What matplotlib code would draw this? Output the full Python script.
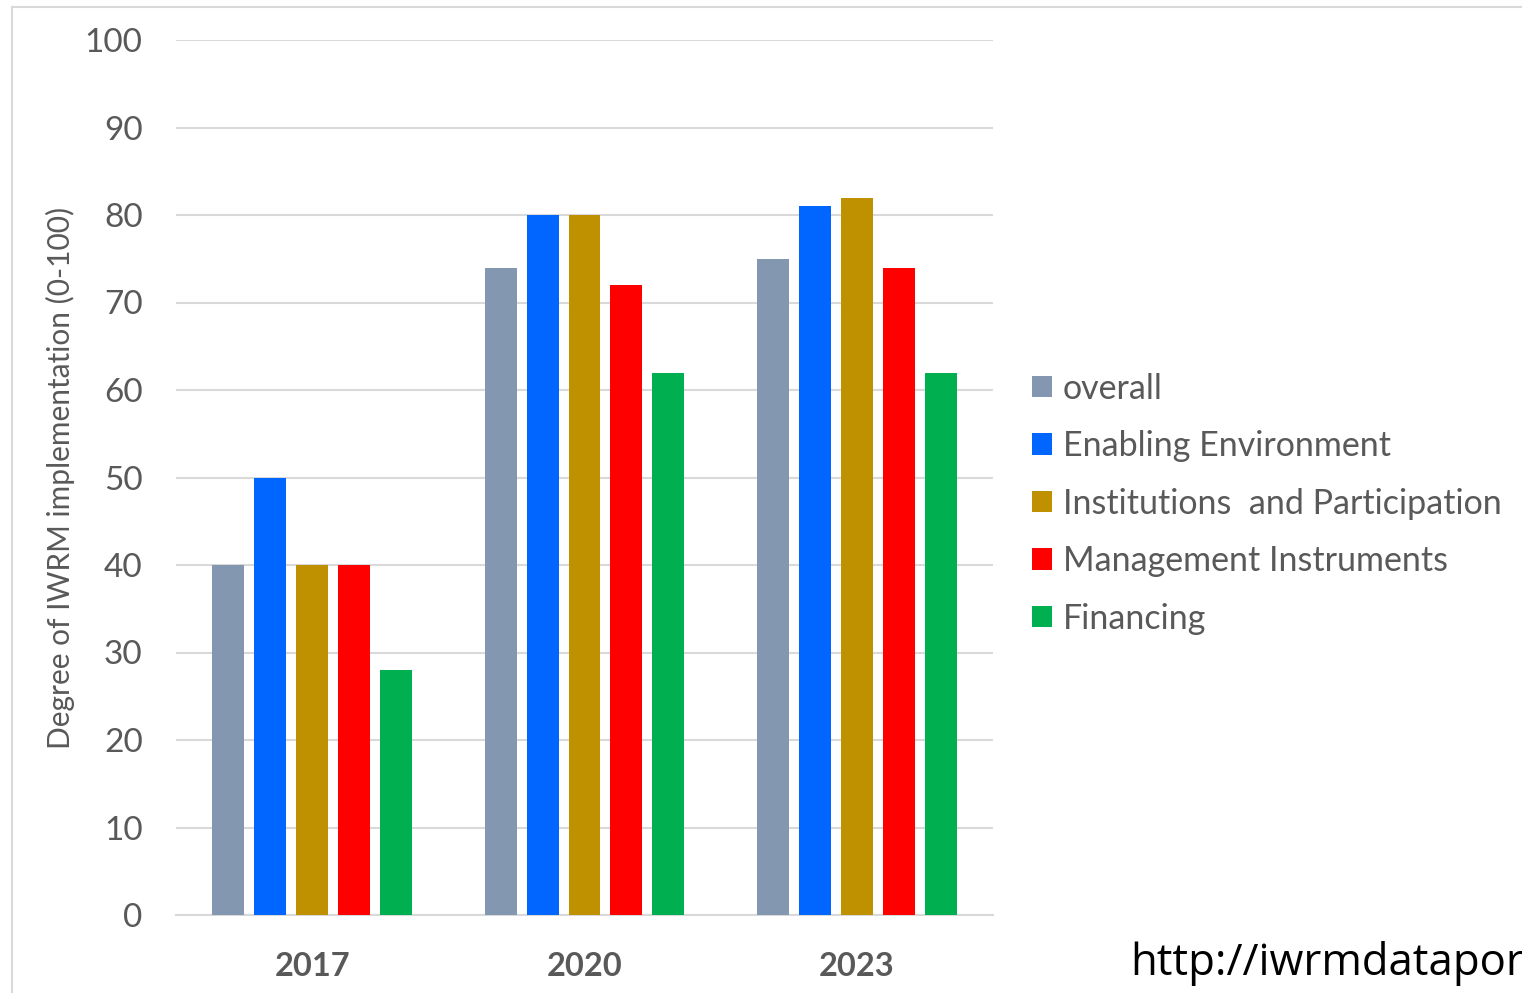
import matplotlib.pyplot as plt
import matplotlib.lines as mlines
import numpy as np

plt.rcParams['font.family'] = ['Lato', 'DejaVu Sans']

years = ['2017', '2020', '2023']
series_names = ['overall', 'Enabling Environment', 'Institutions  and Participation',
                'Management Instruments', 'Financing']
overall = [40, 74, 75]
enabling = [50, 80, 81]
institutions = [40, 80, 82]
management = [40, 72, 74]
financing = [28, 62, 62]
colors = ['#8497B0', '#0066FF', '#BF9000', '#FF0000', '#00B050']

values = [overall, enabling, institutions, management, financing]

fig = plt.figure(figsize=(15.22, 9.93), dpi=100)
ax = fig.add_axes([176 / 1522, 78 / 993, 817 / 1522, 875 / 993])

x = np.arange(len(years))
width = 0.1175
step = 0.154
for i, (vals, col, name) in enumerate(zip(values, colors, series_names)):
    ax.bar(x + (i - 2) * step, vals, width, color=col, label=name, zorder=3)

ax.set_xlim(-0.5, 2.5)
ax.set_ylim(0, 100)
ax.set_yticks(range(0, 101, 10))
ax.set_xticks(x)
ax.set_xticklabels(years, fontweight='bold')
ax.tick_params(axis='y', length=0, pad=24, labelsize=24, labelcolor='#595959')
ax.tick_params(axis='x', length=0, pad=27, labelsize=23.5, labelcolor='#595959')
ax.grid(axis='y', color='#D9D9D9', linewidth=1.5, zorder=0)
for s in ['top', 'right', 'left']:
    ax.spines[s].set_visible(False)
ax.spines['bottom'].set_color('#D9D9D9')
ax.spines['bottom'].set_linewidth(1.5)
ax.set_ylabel('Degree of IWRM implementation (0-100)', fontsize=21.5, color='#595959', labelpad=7)

fig.legend(loc='upper left', bbox_to_anchor=(1018 / 1522, 1 - 359 / 993), frameon=False,
           fontsize=24.5, labelcolor='#595959', handlelength=0.59, handleheight=0.59,
           handletextpad=0.32, labelspacing=0.75, borderaxespad=0)

fig.text(1130 / 1522, 1 - 975 / 993, 'http://iwrmdataportal.unepdhi.org', fontsize=31.5,
         color='black', family=['Open Sans', 'DejaVu Sans'], va='baseline', ha='left')

# outer frame lines
fig.add_artist(mlines.Line2D([12 / 1522, 12 / 1522], [0, 1 - 7 / 993], color='#D9D9D9', lw=1.5))
fig.add_artist(mlines.Line2D([12 / 1522, 1], [1 - 7 / 993, 1 - 7 / 993], color='#D9D9D9', lw=1.5))

fig.savefig('out.png', dpi=100)
